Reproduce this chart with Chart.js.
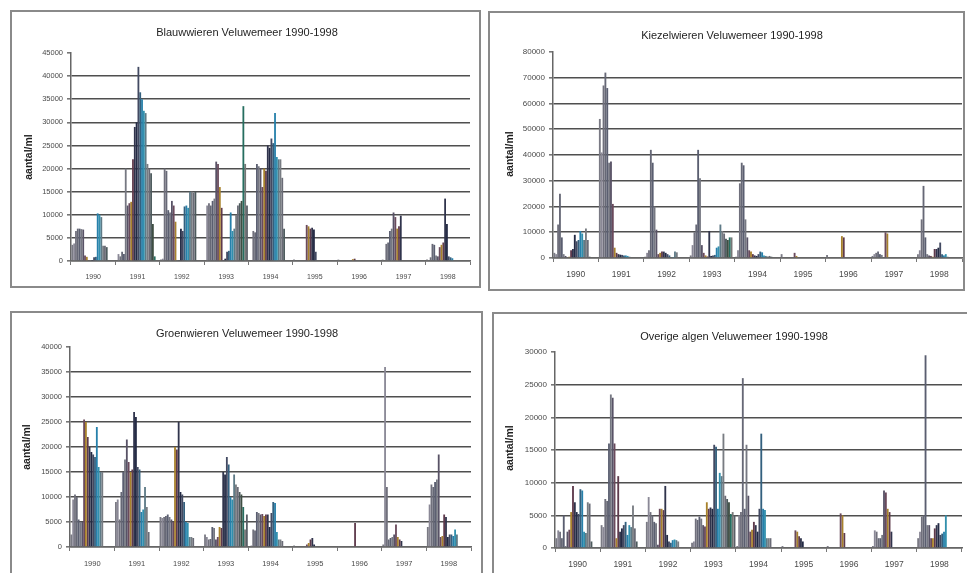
<!DOCTYPE html>
<html>
<head>
<meta charset="utf-8">
<script src="https://cdn.jsdelivr.net/npm/chart.js@4/dist/chart.umd.min.js"></script>
<style>
  html, body { margin: 0; padding: 0; background: #ffffff; width: 967px; height: 573px; overflow: hidden; }
  canvas { position: absolute; }
</style>
</head>
<body>
<canvas id="blauw"></canvas>
<canvas id="kiezel"></canvas>
<canvas id="groen"></canvas>
<canvas id="overig"></canvas>
<script>
// Sampling years (x categories)
const years = ['1990', '1991', '1992', '1993', '1994', '1995', '1996', '1997', '1998'];

// Counts (aantal/ml) per sampling round within each year; one row per year
const blauwwieren = [
  [3500, 3800, 6500, 7000, 7000, 6900, 6800, 1200, 900, 200, 0, 100, 800, 900, 10300, 10000, 9500, 3300, 3300, 3000],
  [0, 1500, 1000, 2000, 1500, 20000, 12000, 12500, 12800, 22000, 29000, 30000, 42000, 36500, 35000, 32500, 32000, 21000, 20000, 19000, 8000, 1000],
  [300, 500, 20000, 19500, 11000, 10500, 13000, 12000, 8500, 0, 200, 7000, 6500, 11800, 12000, 11500, 15000, 15000, 14800, 15000],
  [0, 12000, 12500, 12000, 13000, 13500, 21500, 21000, 16000, 11500, 200, 500, 2000, 2200, 10500, 6500, 7000, 10000, 12000, 12500, 13000, 33500, 21000, 12000],
  [0, 0, 6500, 6200, 21000, 20500, 20000, 16000, 20000, 19500, 25000, 24500, 26500, 25500, 32000, 22500, 22000, 22000, 18000, 7000],
  [300, 0, 0, 0, 0, 0, 0, 7800, 7500, 7000, 7200, 6800, 2000],
  [300, 0, 0, 0, 0, 0, 0, 0, 400, 500],
  [300, 0, 3700, 4000, 6500, 7000, 10500, 9500, 7000, 7500, 9800],
  [300, 200, 800, 3700, 3500, 1200, 1000, 3000, 3500, 4000, 13500, 8000, 1000, 800, 600]
];

const kiezelwieren = [
  [2000, 1500, 13000, 25000, 8000, 1500, 800, 300, 500, 3000, 3500, 9000, 6500, 7000, 10500, 9500, 7000, 11500, 7000, 500],
  [54000, 41000, 67000, 72000, 66000, 37000, 37500, 21000, 4000, 2000, 1500, 1300, 1200, 1000, 1000, 800, 500, 300],
  [500, 2000, 3000, 42000, 37000, 20000, 11000, 1500, 2000, 2500, 2500, 2000, 1500, 1000, 300, 200, 2500, 2200],
  [1000, 5000, 10000, 13000, 42000, 31000, 5000, 2000, 1000, 600, 10500, 800, 1000, 1200, 4000, 4500, 13000, 10500, 9500, 7500, 7000, 8000, 8000, 300],
  [500, 3000, 29000, 37000, 36000, 15000, 8000, 3000, 2500, 1500, 1000, 800, 1500, 2500, 2200, 1000, 800, 600, 800, 500],
  [1500, 0, 0, 0, 0, 0, 0, 2000, 800, 300],
  [1200, 0, 0, 0, 0, 0, 0, 0, 8500, 8000],
  [800, 1500, 2000, 2500, 1500, 1200, 300, 10000, 9500],
  [1500, 3000, 15000, 28000, 8000, 1500, 1000, 800, 500, 3500, 3500, 4000, 6000, 1500, 1000, 1500, 500]
];

const groenwieren = [
  [2500, 9500, 10500, 10000, 5500, 5000, 5000, 25500, 25000, 22000, 20000, 19000, 18500, 18000, 24000, 16000, 15000, 15000],
  [9000, 9500, 5500, 11000, 15000, 17500, 21500, 17000, 15000, 15500, 27000, 26000, 16000, 15500, 7000, 7500, 12000, 8000, 3000],
  [6000, 5800, 6000, 6200, 6500, 6000, 5500, 5000, 20000, 19500, 25000, 11000, 10500, 9000, 5000, 4800, 2000, 2000, 1800],
  [2500, 2000, 1500, 1600, 4000, 3800, 1500, 2000, 4000, 3800, 15000, 14500, 18000, 16500, 10000, 9500, 14500, 12500, 12000, 11000, 10500, 8000, 3500, 6500],
  [0, 300, 3500, 3300, 7000, 6800, 6500, 6600, 6200, 6500, 6500, 4000, 6800, 9000, 8800, 3000, 1500, 1500, 1200],
  [300, 0, 0, 0, 0, 0, 0, 500, 800, 1500, 1800, 500],
  [200, 0, 0, 0, 0, 0, 0, 0, 0, 4800],
  [500, 36000, 12000, 1500, 1800, 2000, 2500, 4500, 2000, 1500, 1200],
  [4000, 8500, 12500, 12000, 13000, 13500, 18500, 2000, 2200, 6500, 6000, 2000, 2500, 2500, 2200, 3500, 2500]
];

const overigeAlgen = [
  [1500, 2700, 2500, 1500, 5000, 300, 2500, 2800, 5500, 9500, 7000, 5500, 5200, 9000, 8800, 2500, 2300, 7000, 6800, 1000],
  [3500, 3200, 7500, 7200, 16000, 23500, 23000, 16000, 1500, 11000, 2500, 3000, 3500, 4000, 2000, 3500, 3200, 6500, 3000, 1000],
  [4000, 7800, 5500, 5000, 4000, 3800, 500, 6000, 6000, 5800, 9500, 2000, 1000, 800, 1200, 1300, 1200, 1000],
  [800, 1000, 4500, 4300, 4800, 4500, 3500, 3300, 7000, 6000, 6200, 6000, 15800, 15500, 6000, 11500, 11000, 17500, 8000, 7500, 7000, 5200, 5500, 5000],
  [300, 5000, 5500, 26000, 6000, 15800, 8000, 2500, 2800, 4000, 3500, 2500, 6000, 17500, 6000, 5800, 1500, 1500, 1500],
  [300, 0, 0, 0, 0, 0, 0, 2700, 2500, 1800, 1500, 1000],
  [300, 0, 0, 0, 0, 0, 0, 5300, 5000, 2300],
  [300, 2700, 2500, 1500, 1500, 2000, 8800, 8500, 6000, 5500, 2500],
  [1500, 2500, 4800, 5000, 29500, 3500, 3500, 1500, 1500, 3000, 3500, 3800, 2000, 2200, 2500, 5000]
];

// Number of sampling rounds per year (one bar series per round)
const ROUNDS = 24;

// Series fill colours, one per sampling round
const roundColors = [
  '#7a7a84', '#8a8896', '#70707c', '#666876', '#5a5e70', '#767882',
  '#585266', '#6a4a5c', '#a8822c', '#5e3a4c', '#30344c', '#232a44',
  '#434a62', '#33607e', '#2680ab', '#3290ad', '#5e7a86', '#787c82',
  '#6a6b76', '#4c5a5c', '#3e4e42', '#266e60', '#767676', '#5a5e66'
];

// Frame, title and axis-label decoration for each panel
const panelDecor = {
  id: 'panelDecor',
  beforeDraw(chart, args, opts) {
    const c = chart.ctx;
    c.save();
    c.fillStyle = '#ffffff';
    c.fillRect(0, 0, chart.width, chart.height);
    c.strokeStyle = '#8a8a8a';
    c.lineWidth = 2;
    c.strokeRect(1, 1, chart.width - 2, chart.height - 2);
    c.restore();
  },
  afterDraw(chart, args, opts) {
    const c = chart.ctx;
    c.save();
    c.fillStyle = '#1e1e1e';
    c.textAlign = 'center';
    c.textBaseline = 'middle';
    c.font = '11px "Liberation Sans", Arial, sans-serif';
    c.fillText(opts.title, opts.titleAt[0], opts.titleAt[1]);
    c.translate(opts.labelAt[0], opts.labelAt[1]);
    c.rotate(-Math.PI / 2);
    c.font = 'bold 10.5px "Liberation Sans", Arial, sans-serif';
    c.fillText('aantal/ml', 0, 0);
    c.restore();
  }
};

function makePanel(id, title, rows, max, step, frame, plot, titleAt, labelAt, xFont, yFont) {
  const canvas = document.getElementById(id);
  const [fx, fy, fw, fh] = frame;
  canvas.width = fw;
  canvas.height = fh;
  canvas.style.left = fx + 'px';
  canvas.style.top = fy + 'px';
  canvas.style.width = fw + 'px';
  canvas.style.height = fh + 'px';

  const datasets = [];
  for (let j = 0; j < ROUNDS; j++) {
    datasets.push({
      label: 'ronde ' + (j + 1),
      data: rows.map(r => r[j]),
      backgroundColor: roundColors[j],
      borderWidth: 0,
      categoryPercentage: 0.98,
      barPercentage: 1.0
    });
  }

  const yWidth = plot[0] - fx;
  const xHeight = fy + fh - plot[3];

  return new Chart(canvas, {
    type: 'bar',
    data: { labels: years, datasets },
    plugins: [panelDecor],
    options: {
      responsive: false,
      animation: false,
      devicePixelRatio: 1,
      layout: { padding: { left: 0, top: plot[1] - fy, right: fx + fw - plot[2], bottom: 0 } },
      plugins: {
        legend: { display: false },
        title: { display: false },
        tooltip: { enabled: false },
        panelDecor: {
          title,
          titleAt: [titleAt[0] - fx, titleAt[1] - fy],
          labelAt: [labelAt[0] - fx, labelAt[1] - fy]
        }
      },
      scales: {
        x: {
          grid: { display: true, offset: true, drawOnChartArea: false, drawTicks: true, tickLength: 4, color: '#777777', lineWidth: 1 },
          border: { display: true, color: '#666666', width: 1.5 },
          ticks: { color: '#4a4a4a', font: { family: '"Liberation Sans", Arial, sans-serif', size: xFont }, padding: 8, maxRotation: 0, autoSkip: false },
          afterFit(scale) { scale.height = xHeight; }
        },
        y: {
          min: 0,
          max: max,
          ticks: {
            stepSize: step,
            color: '#4a4a4a',
            font: { family: '"Liberation Sans", Arial, sans-serif', size: yFont },
            padding: 4,
            callback: v => String(v)
          },
          grid: {
            drawTicks: true,
            tickLength: 4,
            tickColor: '#777777',
            lineWidth: 1.6,
            color: ctx => (ctx.tick && ctx.tick.value === max) ? 'rgba(0,0,0,0)' : '#4f4f4f'
          },
          border: { display: true, color: '#666666', width: 1.5 },
          afterFit(scale) { scale.width = yWidth; }
        }
      }
    }
  });
}

makePanel('blauw', 'Blauwwieren Veluwemeer 1990-1998', blauwwieren, 45000, 5000,
  [10, 10, 471, 278], [71, 53, 470, 261], [247, 33], [29, 157], 7, 7.5);
makePanel('kiezel', 'Kiezelwieren Veluwemeer 1990-1998', kiezelwieren, 80000, 10000,
  [488, 11, 477, 280], [553, 52, 962, 258], [732, 36], [510, 154], 8.5, 8);
makePanel('groen', 'Groenwieren Veluwemeer 1990-1998', groenwieren, 40000, 5000,
  [10, 311, 473, 270], [70, 347, 471, 547], [247, 334], [27, 447], 7.5, 7.5);
makePanel('overig', 'Overige algen Veluwemeer 1990-1998', overigeAlgen, 30000, 5000,
  [492, 312, 477, 270], [555, 352, 962, 548], [734, 337], [510, 448], 8.5, 8);
</script>
</body>
</html>
